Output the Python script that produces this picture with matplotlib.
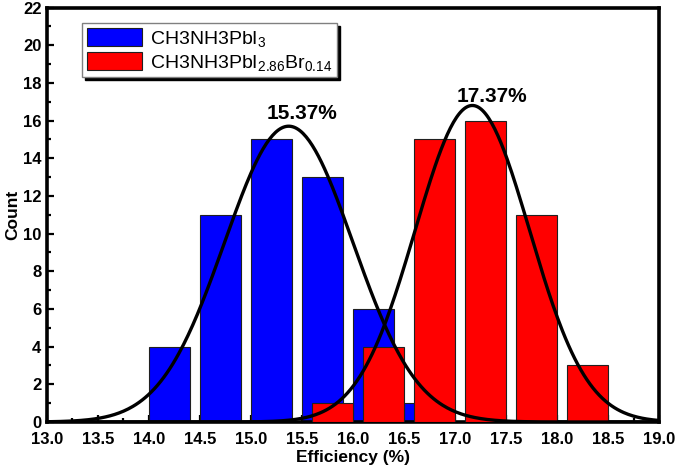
import numpy as np
import matplotlib.pyplot as plt
from matplotlib.ticker import MultipleLocator

plt.rcParams["font.family"] = ["Liberation Sans", "DejaVu Sans"]
plt.rcParams["mathtext.fontset"] = "custom"
plt.rcParams["mathtext.rm"] = "Liberation Sans"
plt.rcParams["mathtext.it"] = "Liberation Sans"

# histogram bins (left edges) and counts
blue_left = [14.0, 14.5, 15.0, 15.5, 16.0, 16.5]
blue_counts = [4, 11, 15, 13, 6, 1]
red_left = [15.6, 16.1, 16.6, 17.1, 17.6, 18.1]
red_counts = [1, 4, 15, 16, 11, 3]
bar_width = 0.4

# gaussian fit parameters
blue_fit = dict(center=15.37, sigma=0.63, amp=15.7)
red_fit = dict(center=17.17, sigma=0.56, amp=16.8)
peak_labels = ["15.37%", "17.37%"]

fig = plt.figure(figsize=(6.75, 4.69), dpi=100)
ax = fig.add_axes([0.0696, 0.1002, 0.9067, 0.8838])

ax.bar(blue_left, blue_counts, width=bar_width, align="edge", color="#0000ff",
       edgecolor="#202020", linewidth=0.8, label=r"CH3NH3PbI$_{3}$", zorder=2)
ax.bar(red_left, red_counts, width=bar_width, align="edge", color="#ff0000",
       edgecolor="#202020", linewidth=0.8, label=r"CH3NH3PbI$_{2.86}$Br$_{0.14}$", zorder=3)

x = np.linspace(13.0, 19.0, 400)
for p in (blue_fit, red_fit):
    y = p["amp"] * np.exp(-(x - p["center"]) ** 2 / (2 * p["sigma"] ** 2))
    ax.plot(x, y, color="black", linewidth=2.4, zorder=4)

ax.text(15.5, 16.07, peak_labels[0], ha="center", va="baseline",
        fontsize=15, fontweight="bold")
ax.text(17.36, 16.97, peak_labels[1], ha="center", va="baseline",
        fontsize=15, fontweight="bold")

ax.set_xlim(13.0, 19.0)
ax.set_ylim(0, 22)
ax.xaxis.set_major_locator(MultipleLocator(0.5))
ax.xaxis.set_minor_locator(MultipleLocator(0.25))
ax.yaxis.set_major_locator(MultipleLocator(2))
ax.yaxis.set_minor_locator(MultipleLocator(1))
ax.set_xticklabels([f"{v:.1f}" for v in ax.get_xticks()])
ax.tick_params(which="both", direction="in", width=1.6, top=False, right=False)
ax.tick_params(which="major", length=5, labelsize=12)
ax.tick_params(axis="x", which="major", pad=7)
ax.tick_params(axis="y", which="major", pad=4)
ax.tick_params(which="minor", length=3)
for lab in ax.get_xticklabels() + ax.get_yticklabels():
    lab.set_fontweight("bold")
for s in ax.spines.values():
    s.set_linewidth(2.6)

ax.set_xlabel("Efficiency (%)", fontsize=12.5, fontweight="bold", labelpad=2)
ax.set_ylabel("Count", fontsize=12.5, fontweight="bold", labelpad=2)

leg = ax.legend(loc="upper left", bbox_to_anchor=(0.058, 0.963), fontsize=14,
                frameon=True, fancybox=False, shadow={"color": "black", "alpha": 1},
                handlelength=2.8, handleheight=1.1, borderpad=0.25,
                labelspacing=0.15, handletextpad=0.4, borderaxespad=0)
leg.get_frame().set_edgecolor("#808080")
leg.get_frame().set_linewidth(1.0)

fig.savefig("out.png", dpi=100)
